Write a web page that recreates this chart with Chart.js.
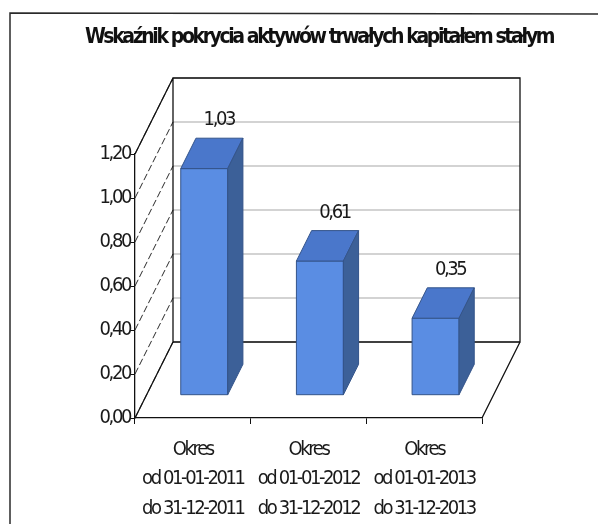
<!DOCTYPE html>
<html lang="pl">
<head>
<meta charset="utf-8">
<title>Wskaźnik pokrycia aktywów trwałych kapitałem stałym</title>
<script src="https://cdn.jsdelivr.net/npm/chart.js@4/dist/chart.umd.min.js"></script>
<style>
  html, body { margin: 0; padding: 0; background: #fff; }
  #wrap { position: relative; width: 598px; height: 524px; }
</style>
</head>
<body>
<div id="wrap"><canvas id="chart" width="598" height="524"></canvas></div>
<script>
// Okresy sprawozdawcze (etykiety osi X, w trzech wierszach)
const categories = [
  ['Okres', 'od 01-01-2011', 'do 31-12-2011'],
  ['Okres', 'od 01-01-2012', 'do 31-12-2012'],
  ['Okres', 'od 01-01-2013', 'do 31-12-2013']
];
// Wartości wskaźnika
const values = [1.03, 0.61, 0.35];
// Podziałka osi Y
const yTickValues = [0, 0.2, 0.4, 0.6, 0.8, 1.0, 1.2];

const TITLE = 'Wskaźnik pokrycia aktywów trwałych kapitałem stałym';
const FONT = "'Liberation Sans Narrow', 'DejaVu Sans Condensed', 'Liberation Sans', sans-serif";
const TEXT_COLOR = '#1a1a1a';
const SPACING = '-2.4px';

// Rzut perspektywy 3D: przesunięcie tylnej ściany względem przedniej płaszczyzny
const DEPTH_X = 38, DEPTH_Y = -76;
const BAR_DEPTH_FROM = 0.3, BAR_DEPTH_TO = 0.7;

const fmt = v => v.toFixed(2).replace('.', ',');

const spacingPlugin = {
  id: 'spacing',
  beforeUpdate(chart) { chart.ctx.letterSpacing = SPACING; },
  beforeDraw(chart) { chart.ctx.letterSpacing = SPACING; }
};

// Ściany wykresu: tylna ściana z liniami siatki, ściana boczna i podłoga
const wallsPlugin = {
  id: 'walls',
  beforeDatasetsDraw(chart) {
    const { ctx, chartArea: a, scales: { y } } = chart;
    ctx.save();
    // linie siatki na tylnej ścianie
    ctx.strokeStyle = '#c4c4c4';
    ctx.lineWidth = 1.5;
    yTickValues.forEach(v => {
      const py = y.getPixelForValue(v) + DEPTH_Y;
      ctx.beginPath();
      ctx.moveTo(a.left + DEPTH_X, py);
      ctx.lineTo(a.right + DEPTH_X, py);
      ctx.stroke();
    });
    // przerywane linie na ścianie bocznej
    ctx.strokeStyle = '#2a2a2a';
    ctx.lineWidth = 1;
    ctx.setLineDash([7, 3]);
    yTickValues.forEach(v => {
      const py = y.getPixelForValue(v);
      ctx.beginPath();
      ctx.moveTo(a.left, py);
      ctx.lineTo(a.left + DEPTH_X, py + DEPTH_Y);
      ctx.stroke();
    });
    ctx.setLineDash([]);
    // krawędzie ścian i podłogi
    ctx.strokeStyle = '#111';
    ctx.lineWidth = 1.3;
    const L = a.left, R = a.right, T = a.top, B = a.bottom;
    ctx.beginPath();
    // tylna ściana
    ctx.moveTo(L + DEPTH_X, B + DEPTH_Y);
    ctx.lineTo(L + DEPTH_X, T + DEPTH_Y);
    ctx.lineTo(R + DEPTH_X, T + DEPTH_Y);
    ctx.lineTo(R + DEPTH_X, B + DEPTH_Y);
    ctx.lineTo(L + DEPTH_X, B + DEPTH_Y);
    // ściana boczna
    ctx.moveTo(L, T);
    ctx.lineTo(L + DEPTH_X, T + DEPTH_Y);
    ctx.moveTo(L, B);
    ctx.lineTo(L + DEPTH_X, B + DEPTH_Y);
    // podłoga
    ctx.moveTo(R, B);
    ctx.lineTo(R + DEPTH_X, B + DEPTH_Y);
    ctx.stroke();
    ctx.restore();
  },
  afterDraw(chart) {
    // ramka obszaru wykresu
    const { ctx } = chart;
    ctx.save();
    ctx.strokeStyle = '#2a2a2a';
    ctx.lineWidth = 1.5;
    ctx.beginPath();
    ctx.moveTo(10, chart.height + 2);
    ctx.lineTo(10, 13);
    ctx.lineTo(chart.width + 2, 14);
    ctx.stroke();
    ctx.restore();
  }
};

// Słupki jako prostopadłościany oraz etykiety wartości
const bars3dPlugin = {
  id: 'bars3d',
  beforeDatasetDraw() { return false; },
  afterDatasetsDraw(chart) {
    const { ctx } = chart;
    const ox = DEPTH_X * BAR_DEPTH_FROM, oy = DEPTH_Y * BAR_DEPTH_FROM;
    const dx = DEPTH_X * (BAR_DEPTH_TO - BAR_DEPTH_FROM);
    const dy = DEPTH_Y * (BAR_DEPTH_TO - BAR_DEPTH_FROM);
    chart.data.datasets.forEach((ds, di) => {
      const meta = chart.getDatasetMeta(di);
      meta.data.forEach((el, i) => {
        const p = el.getProps(['x', 'y', 'base', 'width'], true);
        const L = p.x - p.width / 2 + ox, R = p.x + p.width / 2 + ox;
        const T = p.y + oy, B = p.base + oy;
        ctx.save();
        ctx.lineWidth = 1;
        ctx.strokeStyle = ds.borderColor;
        ctx.lineJoin = 'round';
        // przód
        ctx.fillStyle = ds.backgroundColor;
        ctx.beginPath();
        ctx.rect(L, T, R - L, B - T);
        ctx.fill(); ctx.stroke();
        // góra
        ctx.fillStyle = ds.topColor;
        ctx.beginPath();
        ctx.moveTo(L, T); ctx.lineTo(R, T);
        ctx.lineTo(R + dx, T + dy); ctx.lineTo(L + dx, T + dy);
        ctx.closePath();
        ctx.fill(); ctx.stroke();
        // bok
        ctx.fillStyle = ds.sideColor;
        ctx.beginPath();
        ctx.moveTo(R, T); ctx.lineTo(R + dx, T + dy);
        ctx.lineTo(R + dx, B + dy); ctx.lineTo(R, B);
        ctx.closePath();
        ctx.fill(); ctx.stroke();
        // etykieta wartości
        ctx.letterSpacing = SPACING;
        ctx.fillStyle = TEXT_COLOR;
        ctx.font = '20px ' + FONT;
        ctx.textAlign = 'center';
        ctx.textBaseline = 'middle';
        ctx.fillText(fmt(ds.data[i]), (L + R) / 2 + dx / 2 + 7, T + dy - 18);
        ctx.restore();
      });
    });
  }
};

new Chart(document.getElementById('chart'), {
  type: 'bar',
  data: {
    labels: categories,
    datasets: [{
      label: TITLE,
      data: values,
      yAxisID: 'y',
      backgroundColor: '#5a8de3',
      topColor: '#4a77cb',
      sideColor: '#3c6098',
      borderColor: '#34548a',
      barPercentage: 0.406,
      categoryPercentage: 1.0
    }]
  },
  options: {
    responsive: false,
    animation: false,
    events: [],
    layout: { padding: { left: 40, right: 0, top: 0, bottom: 0 } },
    plugins: {
      legend: { display: false },
      tooltip: { enabled: false },
      title: {
        display: true,
        text: TITLE,
        color: '#111',
        font: { family: FONT, size: 21, weight: 'bold', lineHeight: 1.2 },
        padding: { top: 25, bottom: 103.8 }
      }
    },
    scales: {
      x: {
        offset: true,
        grid: { display: true, offset: true, drawOnChartArea: false, drawTicks: true, tickLength: 6, color: '#111' },
        border: { display: true, color: '#111', width: 1.3 },
        ticks: {
          color: TEXT_COLOR,
          font: { family: FONT, size: 20, lineHeight: 1.47 },
          padding: 11,
          maxRotation: 0, minRotation: 0, autoSkip: false
        },
        afterFit(s) { s.height = 106; }
      },
      y: {
        position: 'left',
        min: 0, max: 1.2,
        afterBuildTicks(s) { s.ticks = yTickValues.map(v => ({ value: v })); },
        grid: { display: true, drawOnChartArea: false, drawTicks: true, tickLength: 4, color: '#111' },
        border: { display: true, color: '#111', width: 1.3 },
        ticks: {
          color: TEXT_COLOR,
          font: { family: FONT, size: 20 },
          padding: 1,
          callback: v => fmt(v)
        },
        afterFit(s) { s.width = 95; }
      },
      yRight: {
        position: 'right',
        display: true,
        min: 0, max: 1.2,
        grid: { display: false },
        border: { display: false },
        ticks: { display: false },
        afterFit(s) { s.width = 116; }
      }
    }
  },
  plugins: [spacingPlugin, wallsPlugin, bars3dPlugin]
});
</script>
</body>
</html>
